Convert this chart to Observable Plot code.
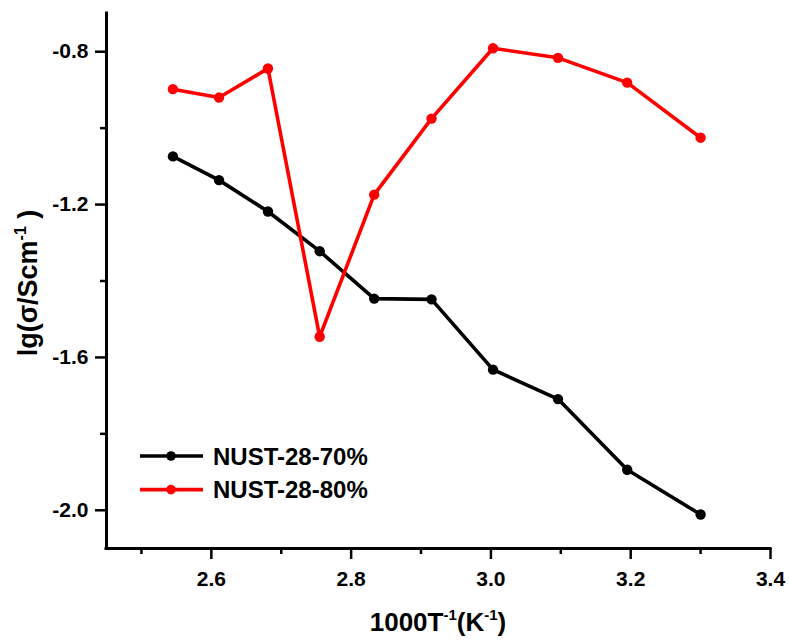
<!DOCTYPE html>
<html><head><meta charset="utf-8">
<script src="https://cdn.jsdelivr.net/npm/d3@7"></script>
<script src="https://cdn.jsdelivr.net/npm/@observablehq/plot@0.6"></script>
<style>
body{margin:0;background:#fff}
#chart svg{font-family:"Liberation Sans",Arial,sans-serif;font-weight:bold}
#chart svg g[aria-label$="tick label"]{font-size:21px !important;font-weight:bold}
</style>
</head><body><div id="chart"></div>
<script>
const xValues = [2.545, 2.611, 2.681, 2.755, 2.833, 2.915, 3.003, 3.096, 3.195, 3.300];
const series70 = [-1.074, -1.136, -1.218, -1.322, -1.446, -1.448, -1.632, -1.709, -1.894, -2.011];
const series80 = [-0.898, -0.920, -0.844, -1.546, -1.174, -0.975, -0.791, -0.816, -0.881, -1.025];
const seriesNames = ["NUST-28-70%", "NUST-28-80%"];
const seriesColors = ["#000000", "#ff0000"];
const xMajorTicks = [2.6, 2.8, 3.0, 3.2, 3.4];
const xMinorTicks = [2.5, 2.7, 2.9, 3.1, 3.3];
const yMajorTicks = [-0.8, -1.2, -1.6, -2.0];
const yMinorTicks = [-1.0, -1.4, -1.8];

const seriesValues = [series70, series80];
const rows = seriesNames.flatMap((name, i) =>
  xValues.map((x, j) => ({x, y: seriesValues[i][j], series: name})));

const fmt = d => d.toFixed(1);

const plot = Plot.plot({
  width: 789, height: 641,
  marginLeft: 106, marginRight: 19, marginTop: 13, marginBottom: 93,
  style: {background: "white", color: "black", fontWeight: "bold"},
  x: {domain: [2.45, 3.4]},
  y: {domain: [-2.1, -0.7]},
  color: {domain: seriesNames, range: seriesColors},
  marks: [
    Plot.axisX({ticks: xMinorTicks, tickSize: 6, strokeWidth: 2.5, text: null, label: null}),
    Plot.axisX({ticks: xMajorTicks, tickSize: 11, strokeWidth: 2.5, tickPadding: 12,
      tickFormat: fmt, fontSize: 21, fontWeight: "bold", label: null}),
    Plot.axisY({ticks: yMinorTicks, tickSize: 6, strokeWidth: 2.5, text: null, label: null}),
    Plot.axisY({ticks: yMajorTicks, tickSize: 11, strokeWidth: 2.5, tickPadding: 7,
      tickFormat: fmt, fontSize: 21, fontWeight: "bold", label: null}),
    Plot.ruleX([2.45], {strokeWidth: 3, strokeLinecap: "square"}),
    Plot.ruleY([-2.1], {strokeWidth: 3, strokeLinecap: "square"}),
    Plot.line(rows, {x: "x", y: "y", z: "series", stroke: "series", strokeWidth: 3.6}),
    Plot.dot(rows, {x: "x", y: "y", fill: "series", r: 5.2})
  ]
});

document.getElementById("chart").append(plot);
const svg = d3.select(plot);

// x-axis title
const xt = svg.append("text").attr("text-anchor", "middle")
  .attr("transform", "translate(438,631)")
  .attr("font-size", 26).attr("font-weight", "bold").attr("fill", "black");
xt.append("tspan").text("1000T");
xt.append("tspan").attr("font-size", 15).attr("dy", -11).text("-1");
xt.append("tspan").attr("dy", 11).text("(K");
xt.append("tspan").attr("font-size", 15).attr("dy", -11).text("-1");
xt.append("tspan").attr("dy", 11).text(")");

// y-axis title
const yt = svg.append("text").attr("text-anchor", "middle")
  .attr("transform", "translate(37,283) rotate(-90)")
  .attr("font-size", 27).attr("font-weight", "bold").attr("fill", "black");
yt.append("tspan").text("lg(σ/Scm");
yt.append("tspan").attr("font-size", 16).attr("dy", -11).text("-1");
yt.append("tspan").attr("dy", 11).text(" )");

// legend
const lg = svg.append("g");
seriesNames.forEach((name, i) => {
  const g = lg.append("g").attr("transform", `translate(140,${456 + i * 33.6})`);
  g.append("line").attr("x1", 0).attr("x2", 63).attr("stroke", seriesColors[i]).attr("stroke-width", 3.6);
  g.append("circle").attr("cx", 31).attr("r", 4.8).attr("fill", seriesColors[i]);
  g.append("text").attr("x", 73).attr("dy", "0.36em").attr("text-anchor", "start")
    .attr("font-size", 24).attr("font-weight", "bold").attr("fill", "black").text(name);
});
</script>
</body></html>
